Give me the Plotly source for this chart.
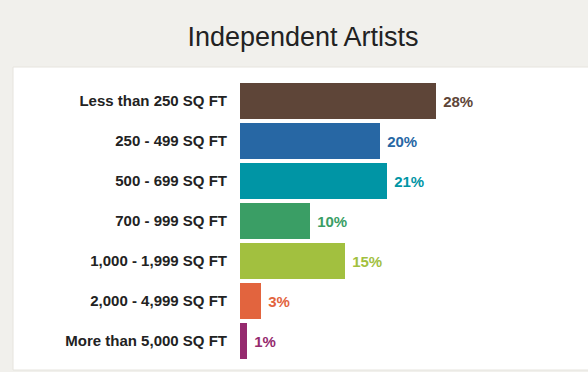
import plotly.graph_objects as go

categories = [
    "Less than 250 SQ FT",
    "250 - 499 SQ FT",
    "500 - 699 SQ FT",
    "700 - 999 SQ FT",
    "1,000 - 1,999 SQ FT",
    "2,000 - 4,999 SQ FT",
    "More than 5,000 SQ FT",
]
values = [28, 20, 21, 10, 15, 3, 1]
colors = ["#5e4538", "#2767a4", "#0095a5", "#3a9e65", "#a2c03f", "#e2643e", "#952a6e"]
title_text = "Independent Artists"

W, H = 588, 372
ml, mr, mt, mb = 240, 0, 81, 11
pw = W - ml - mr
ph = H - mt - mb

fig = go.Figure(
    go.Bar(
        x=values,
        y=categories,
        orientation="h",
        width=0.9,
        marker=dict(color=colors, line=dict(width=0)),
        texttemplate="\u00a0%{x}%",
        textposition="outside",
        textfont=dict(family="Liberation Sans", size=15, color=colors, weight="bold"),
        cliponaxis=False,
        hoverinfo="skip",
    )
)

# white panel behind the chart
fig.add_shape(
    type="rect", xref="paper", yref="paper", layer="below",
    x0=(13 - ml) / pw, x1=1.01,
    y0=(mt + ph - 370) / ph, y1=(mt + ph - 67) / ph,
    fillcolor="white", line=dict(color="#e6e4de", width=1),
)

fig.update_layout(
    width=W, height=H,
    margin=dict(l=ml, r=mr, t=mt, b=mb),
    paper_bgcolor="#f1f0ec",
    plot_bgcolor="white",
    showlegend=False,
    bargap=0.1,
    title=dict(
        text=title_text, x=303 / W, xanchor="center", xref="container",
        y=1 - 37 / H, yanchor="middle", yref="container",
        font=dict(family="Liberation Sans", size=27, color="#222222"),
    ),
    xaxis=dict(range=[0, pw / 7.0], visible=False, fixedrange=True),
    yaxis=dict(
        autorange="reversed", showgrid=False, zeroline=False, showline=False,
        ticks="", ticklabelstandoff=12, fixedrange=True,
        tickfont=dict(family="Liberation Sans", size=15, color="#222222", weight="bold"),
    ),
)

fig.write_html(
    "out.html",
    config={"displayModeBar": False},
    post_script="document.body.style.margin='0';document.documentElement.style.overflow='hidden';",
)
